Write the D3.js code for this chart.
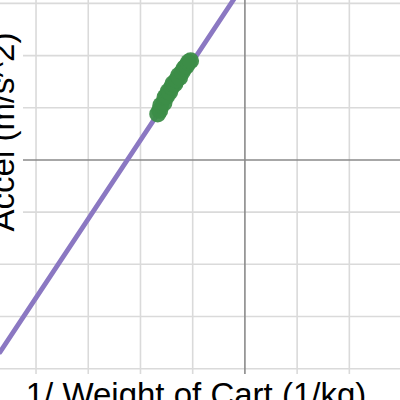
<!DOCTYPE html>
<html>
<head>
<meta charset="utf-8">
<script src="https://cdn.jsdelivr.net/npm/d3@7/dist/d3.min.js"></script>
<style>
    html, body { margin: 0; padding: 0; background: #fff; }
    svg text {
        font-family: "Liberation Sans", Arial, sans-serif;
        font-size: 33px;
        fill: #000;
    }
</style>
</head>
<body>
<svg id="chart" width="400" height="400"></svg>
<script>
    var invWeight = [-1.67, -1.63, -1.61, -1.55, -1.53, -1.50, -1.47, -1.44, -1.40, -1.38, -1.34, -1.31, -1.27, -1.25, -1.20, -1.16, -1.12, -1.08, -1.04];
    var accel     = [0.88, 0.95, 1.05, 1.09, 1.20, 1.22, 1.31, 1.30, 1.40, 1.46, 1.46, 1.53, 1.62, 1.58, 1.69, 1.76, 1.80, 1.87, 1.90];

    // fitted line a = m * (1/w) + b
    var fitSlope = 1.51;
    var fitIntercept = 3.40;

    var gridTicksX = [-5, -4, -3, -2, -1, 0, 1, 2, 3];
    var gridTicksY = [-5, -4, -3, -2, -1, 0, 1, 2, 3];

    var xLabel = "1/ Weight of Cart (1/kg)";
    var yLabel = "Accel (m/s^2)";

    var svg = d3.select("#chart"),
        width = +svg.attr("width"),
        height = +svg.attr("height");

    var x = d3.scaleLinear().domain([-4.69, 2.97]).range([0, width]);
    var y = d3.scaleLinear().domain([-4.6, 3.065]).range([height, 0]);

    // grid
    svg.append("g")
        .selectAll("line")
        .data(gridTicksX.filter(function(d) { return d !== 0; }))
        .enter().append("line")
        .attr("x1", function(d) { return x(d); })
        .attr("x2", function(d) { return x(d); })
        .attr("y1", 0)
        .attr("y2", height)
        .attr("stroke", "#dadada")
        .attr("stroke-width", 1.6);

    svg.append("g")
        .selectAll("line")
        .data(gridTicksY.filter(function(d) { return d !== 0; }))
        .enter().append("line")
        .attr("y1", function(d) { return y(d); })
        .attr("y2", function(d) { return y(d); })
        .attr("x1", 0)
        .attr("x2", width)
        .attr("stroke", "#dadada")
        .attr("stroke-width", 1.6);

    // axes at zero
    svg.append("line")
        .attr("x1", x(0)).attr("x2", x(0))
        .attr("y1", 0).attr("y2", height)
        .attr("stroke", "#8a8a8a")
        .attr("stroke-width", 1.6);
    svg.append("line")
        .attr("y1", y(0)).attr("y2", y(0))
        .attr("x1", 0).attr("x2", width)
        .attr("stroke", "#8a8a8a")
        .attr("stroke-width", 1.6);

    // fit line across the whole view
    var xd = x.domain();
    svg.append("line")
        .attr("x1", x(xd[0]))
        .attr("y1", y(fitSlope * xd[0] + fitIntercept))
        .attr("x2", x(xd[1]))
        .attr("y2", y(fitSlope * xd[1] + fitIntercept))
        .attr("stroke", "#8b78c2")
        .attr("stroke-width", 4.8)
        .attr("stroke-linecap", "round");

    // data points
    svg.append("g")
        .selectAll("circle")
        .data(invWeight.map(function(d, i) { return [d, accel[i]]; }))
        .enter().append("circle")
        .attr("cx", function(d) { return x(d[0]); })
        .attr("cy", function(d) { return y(d[1]); })
        .attr("r", 8.5)
        .attr("fill", "#3c8d48")
        .attr("fill-opacity", 0.95);

    // labels with white boxes behind
    function boxedLabel(g) {
        var t = g.select("text");
        var b = t.node().getBBox();
        g.insert("rect", "text")
            .attr("x", b.x - 2)
            .attr("y", b.y - 2)
            .attr("width", b.width + 4)
            .attr("height", b.height + 4)
            .attr("fill", "#fff");
    }

    var xl = svg.append("g").attr("transform", "translate(196,406)");
    xl.append("text").attr("text-anchor", "middle").text(xLabel);
    boxedLabel(xl);

    var yl = svg.append("g").attr("transform", "translate(14,132) rotate(-90)");
    yl.append("text").attr("text-anchor", "middle").text(yLabel);
    boxedLabel(yl);
</script>
</body>
</html>
